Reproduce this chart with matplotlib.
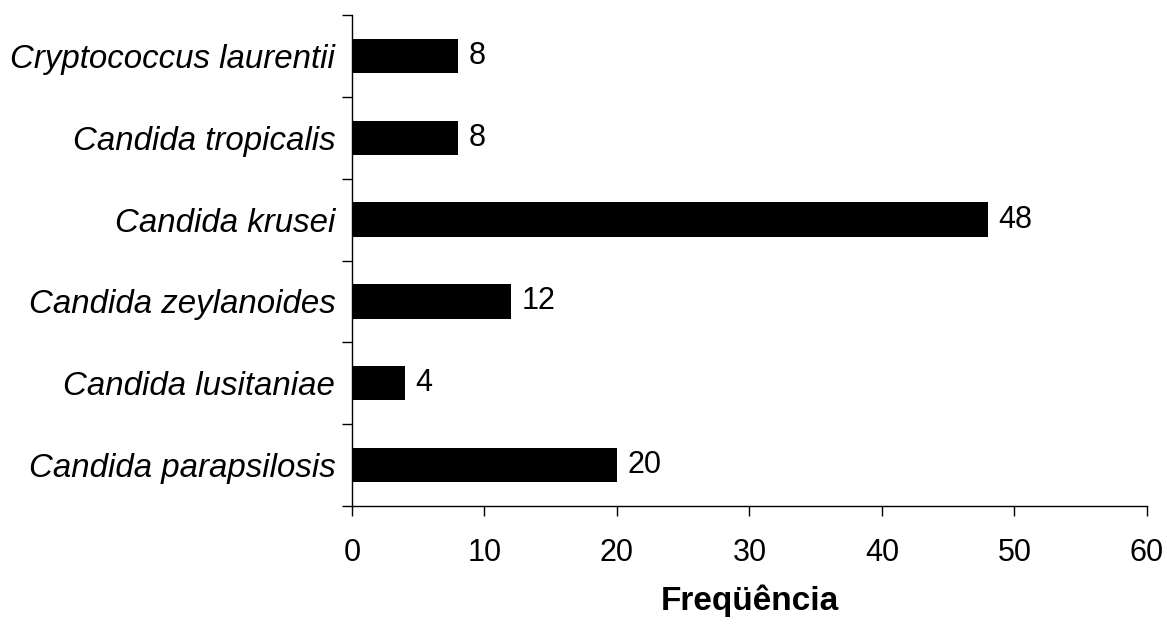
import numpy as np
import matplotlib.pyplot as plt
from matplotlib.ticker import FixedLocator

species = [
    "Candida parapsilosis",
    "Candida lusitaniae",
    "Candida zeylanoides",
    "Candida krusei",
    "Candida tropicalis",
    "Cryptococcus laurentii",
]
freq = [20, 4, 12, 48, 8, 8]
xticks = [0, 10, 20, 30, 40, 50, 60]

plt.rcParams["font.family"] = ["Liberation Sans", "DejaVu Sans"]

fig = plt.figure(figsize=(11.67, 6.26), dpi=100)
ax = fig.add_axes([0.3016, 0.1917, 0.6812, 0.7843])

y = np.arange(len(species))
ax.barh(y, freq, height=0.42, color="black")

# value labels just right of each bar
for yi, v in zip(y, freq):
    ax.text(v + 0.8, yi, str(v), va="center", ha="left", fontsize=22)

ax.set_xlim(0, 60)
ax.set_ylim(-0.5, len(species) - 0.5)
ax.set_xticks(xticks)
ax.tick_params(axis="x", labelsize=22, length=7, width=1, direction="out", pad=16)

# category labels centred, tick marks on the category borders
ax.set_yticks(y)
ax.set_yticklabels(species, fontsize=23.8, style="italic")
ax.yaxis.set_minor_locator(FixedLocator(np.arange(-0.5, len(species), 1.0)))
ax.tick_params(axis="y", which="major", length=0, pad=12)
ax.tick_params(axis="y", which="minor", length=7, width=1, direction="out")

for s in ["top", "right"]:
    ax.spines[s].set_visible(False)
for s in ["left", "bottom"]:
    ax.spines[s].set_linewidth(1)

ax.set_xlabel("Freqüência", fontsize=24, fontweight="bold", labelpad=12)

fig.savefig("out.png", dpi=100)
